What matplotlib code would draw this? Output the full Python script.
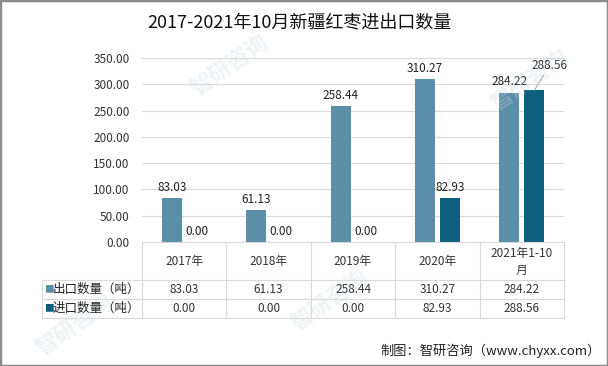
import numpy as np
import matplotlib.pyplot as plt
from matplotlib.patches import Rectangle
from matplotlib.transforms import blended_transform_factory

plt.rcParams['font.family'] = ['Noto Sans CJK SC', 'DejaVu Sans']

#--------- data -----------
years = ["2017年", "2018年", "2019年", "2020年", "2021年1-10\n月"]
export_qty = [83.03, 61.13, 258.44, 310.27, 284.22]   # 出口数量（吨）
import_qty = [0.00, 0.00, 0.00, 82.93, 288.56]        # 进口数量（吨）
series_names = ["出口数量（吨）", "进口数量（吨）"]
colors = ["#5b8fa8", "#0d5f80"]

W, H = 608, 366
fig = plt.figure(figsize=(W / 100, H / 100), dpi=100)

def fy(py):  # pixel row -> figure fraction
    return 1 - py / H

def fx(px):
    return px / W

ax = fig.add_axes([fx(142), fy(242), fx(564) - fx(142), fy(58) - fy(242)])

x = np.arange(len(years))
bw = 0.237
b1 = ax.bar(x - 0.148, export_qty, bw, color=colors[0])
b2 = ax.bar(x + 0.148, import_qty, bw, color=colors[1])

last = len(years) - 1
ax.bar_label(b1, fmt="%.2f", padding=3, fontsize=8.5, color="#222222")
ax.bar_label(b2, labels=[f"{v:.2f}" for v in import_qty[:-1]] + [""],
             padding=3, fontsize=8.5, color="#222222")
# last import label pushed up/right with a leader line
ax.annotate(f"{import_qty[last]:.2f}", xy=(x[last] + 0.148, import_qty[last]),
            xytext=(11, 13), textcoords="offset points", ha="center", va="bottom",
            fontsize=8.5, color="#222222",
            arrowprops=dict(arrowstyle="-", color="#a6a6a6", lw=0.7,
                            shrinkA=0, shrinkB=0))

ax.set_xlim(-0.5, len(years) - 0.5)
ax.set_ylim(0, 350)
ax.set_yticks(np.arange(0, 351, 50))
ax.set_yticklabels([f"{v:.2f}" for v in np.arange(0, 351, 50)], fontsize=8.5, color="#333333")
ax.set_xticks([])
ax.tick_params(axis="y", length=0, pad=9)
ax.grid(axis="y", color="#d9d9d9", lw=0.8)
ax.set_axisbelow(True)
for s in ["top", "right", "left"]:
    ax.spines[s].set_visible(False)
ax.spines["bottom"].set_color("#d9d9d9")

#--------- data table under the chart -----------
tr = blended_transform_factory(ax.transData, fig.transFigure)
line_c = "#d9d9d9"
for b in np.arange(-0.5, len(years), 1.0):
    fig.add_artist(plt.Line2D([b, b], [fy(242), fy(318)], transform=tr, color=line_c, lw=0.8))
for py in [280, 299, 318]:
    fig.add_artist(plt.Line2D([fx(42), fx(564)], [fy(py), fy(py)], color=line_c, lw=0.8))
fig.add_artist(plt.Line2D([fx(42), fx(42)], [fy(280), fy(318)], color=line_c, lw=0.8))

for i, lab in enumerate(years):
    fig.text(x[i], fy(262), lab, transform=tr, ha="center", va="center",
             fontsize=8.5, color="#333333", linespacing=1.45)
for r, (vals, name, c) in enumerate(zip([export_qty, import_qty], series_names, colors)):
    ry = fy(289.5 + r * 19)
    fig.text(fx(44), ry, "■", color=c, fontsize=7, va="center", ha="left")
    fig.text(fx(53), ry, name, color="#222222", fontsize=9, va="center", ha="left")
    for i, v in enumerate(vals):
        fig.text(x[i], ry, f"{v:.2f}", transform=tr, ha="center", va="center",
                 fontsize=8.5, color="#333333")

#--------- title, source, watermark, frame -----------
fig.text(fx(300), fy(22), "2017-2021年10月新疆红枣进出口数量", ha="center", va="center",
         fontsize=13, color="#111111")
fig.text(fx(601), fy(351), "制图：智研咨询（www.chyxx.com）", ha="right", va="center",
         fontsize=9.5, color="#222222")

for wx, wy in [(230, 65), (330, 300), (530, 80), (75, 325)]:
    fig.text(fx(wx), fy(wy), "智研咨询", rotation=35, fontsize=16, color="#c9d7e3",
             alpha=0.3, ha="center", va="center", fontweight="bold", zorder=0)

fig.add_artist(Rectangle((0, 0), 1, 1, transform=fig.transFigure, fill=False,
                         edgecolor="#8c8c8c", lw=2.5))

fig.savefig("out.png", dpi=100)
